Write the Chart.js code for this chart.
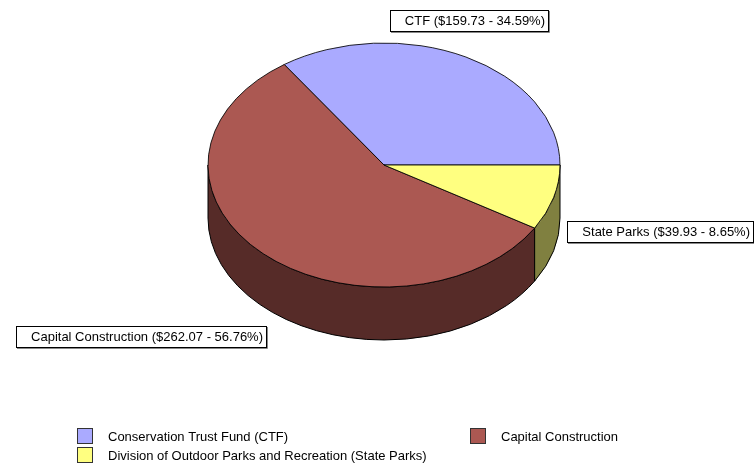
<!DOCTYPE html>
<html>
<head>
<meta charset="utf-8">
<script src="https://cdn.jsdelivr.net/npm/chart.js@4/dist/chart.umd.min.js"></script>
<style>
  body { margin: 0; background: #fff; }
  #wrap { width: 754px; height: 464px; }
</style>
</head>
<body>
<div id="wrap"><canvas id="myChart" width="754" height="464"></canvas></div>
<script>
// data
var legendLabels = ["Conservation Trust Fund (CTF)", "Capital Construction", "Division of Outdoor Parks and Recreation (State Parks)"];
var shortLabels = ["CTF", "Capital Construction", "State Parks"];
var amounts = [159.73, 262.07, 39.93];
var topColors = ["#AAAAFF", "#AB5852", "#FFFF80"];
var sideColors = ["#55557F", "#562B28", "#808040"];

// layout bits (not data)
var FONT = "13px 'Liberation Sans', Arial, sans-serif";
var CENTER = { x: 384, y: 165 };
var TILT = 122 / 176;
var DEPTH = 53;
var labelBoxes = [ { right: 548, top: 10 }, { right: 266, top: 326 }, { right: 753, top: 221 } ];
var legendSpots = [ { x: 77, y: 428 }, { x: 470, y: 428 }, { x: 77, y: 447 } ];

var total = amounts.reduce(function(a, b) { return a + b; }, 0);

function labelText(i) {
    var pct = (amounts[i] / total * 100).toFixed(2);
    return shortLabels[i] + " ($" + amounts[i].toFixed(2) + " - " + pct + "%)";
}

// draws the side walls under the pie, then squashes the top into an ellipse
var pie3d = {
    id: "pie3d",
    beforeDatasetsDraw: function(chart) {
        var ctx = chart.ctx;
        var arcs = chart.getDatasetMeta(0).data;
        if (!arcs.length) return;
        var rx = arcs[0].outerRadius;
        var ry = rx * TILT;
        var TWO = Math.PI * 2;

        ctx.save();
        ctx.lineWidth = 1;
        ctx.strokeStyle = "#000";
        for (var i = 0; i < arcs.length; i++) {
            var a1 = arcs[i].startAngle, a2 = arcs[i].endAngle;
            // y flip -> screen angle is negated
            var s = ((-a2) % TWO + TWO) % TWO;
            var e = s + (a2 - a1);
            var ranges = [[s, e], [s - TWO, e - TWO]];
            for (var j = 0; j < ranges.length; j++) {
                var from = Math.max(ranges[j][0], 0);
                var to = Math.min(ranges[j][1], Math.PI);
                if (to - from <= 0.0001) continue;
                ctx.beginPath();
                ctx.ellipse(CENTER.x, CENTER.y, rx, ry, 0, from, to, false);
                ctx.ellipse(CENTER.x, CENTER.y + DEPTH, rx, ry, 0, to, from, true);
                ctx.closePath();
                ctx.fillStyle = sideColors[i];
                ctx.fill();
                ctx.stroke();
            }
        }
        ctx.restore();

        ctx.save();
        ctx.translate(CENTER.x, CENTER.y);
        ctx.scale(1, -TILT);
        ctx.translate(-arcs[0].x, -arcs[0].y);
    },
    afterDatasetsDraw: function(chart) {
        chart.ctx.restore();
    },
    afterDraw: function(chart) {
        var ctx = chart.ctx;
        ctx.save();
        ctx.font = FONT;
        ctx.textBaseline = "middle";

        // value boxes
        for (var i = 0; i < amounts.length; i++) {
            var txt = labelText(i);
            var w = Math.round(ctx.measureText(txt).width) + 18;
            var b = labelBoxes[i];
            var left = b.right - w;
            ctx.fillStyle = "#fff";
            ctx.fillRect(left, b.top, w, 21);
            ctx.strokeStyle = "#888";
            ctx.beginPath();
            ctx.moveTo(b.right + 1.5, b.top + 1);
            ctx.lineTo(b.right + 1.5, b.top + 22.5);
            ctx.lineTo(left + 1, b.top + 22.5);
            ctx.stroke();
            ctx.strokeStyle = "#000";
            ctx.strokeRect(left + 0.5, b.top + 0.5, w, 21);
            ctx.fillStyle = "#000";
            ctx.textAlign = "right";
            ctx.fillText(txt, b.right - 3, b.top + 11);
        }

        // legend
        ctx.textAlign = "left";
        for (var k = 0; k < legendLabels.length; k++) {
            var p = legendSpots[k];
            ctx.fillStyle = topColors[k];
            ctx.fillRect(p.x, p.y, 16, 16);
            ctx.strokeStyle = "#333";
            ctx.strokeRect(p.x + 0.5, p.y + 0.5, 15, 15);
            ctx.fillStyle = "#000";
            ctx.fillText(legendLabels[k], p.x + 31, p.y + 9);
        }
        ctx.restore();
    }
};

var ctx = document.getElementById("myChart");
var myChart = new Chart(ctx, {
    type: "pie",
    data: {
        labels: legendLabels,
        datasets: [{
            data: amounts,
            backgroundColor: topColors,
            borderColor: "#000",
            borderWidth: 1,
            hoverOffset: 0,
            clip: false
        }]
    },
    options: {
        responsive: false,
        animation: false,
        events: [],
        rotation: 90,
        layout: { padding: { left: 208, right: 193, top: 0, bottom: 111 } },
        plugins: {
            legend: { display: false },
            tooltip: { enabled: false }
        }
    },
    plugins: [pie3d]
});
</script>
</body>
</html>
